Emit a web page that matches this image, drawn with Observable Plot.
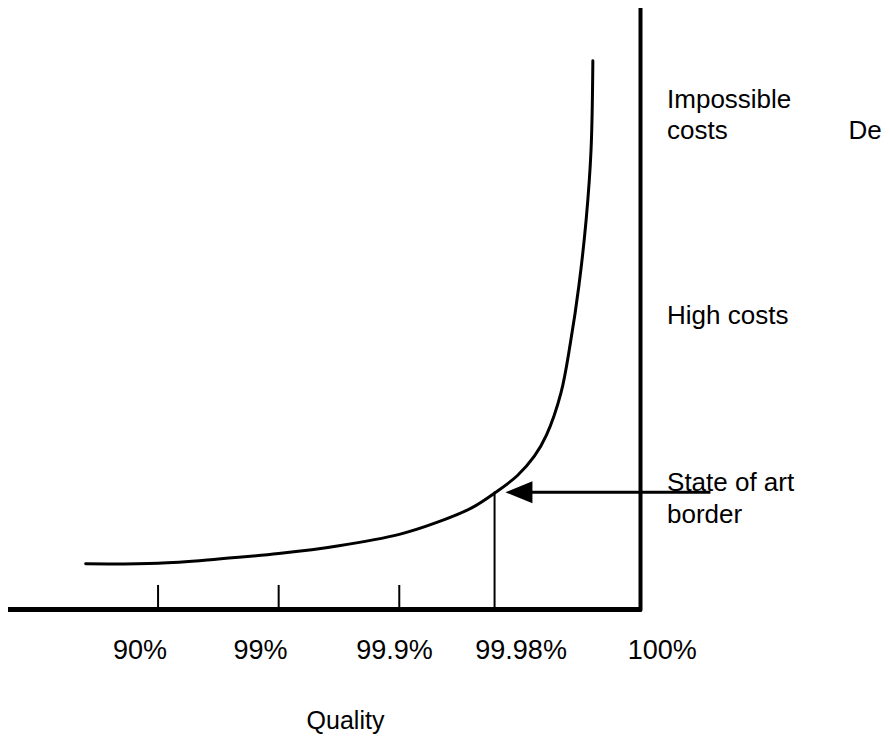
<!DOCTYPE html>
<html>
<head>
<meta charset="utf-8">
<script src="https://cdn.jsdelivr.net/npm/d3@7"></script>
<script src="https://cdn.jsdelivr.net/npm/@observablehq/plot@0.6"></script>
<style>
  html, body { margin: 0; padding: 0; background: #fff; }
  #chart { width: 890px; height: 736px; }
</style>
</head>
<body>
<div id="chart"></div>
<script>
// Quality axis: positions in "quality step" units (90% = 1, 99% = 2, 99.9% = 3, ...)
const qualityLabels = ["90%", "99%", "99.9%", "99.98%", "100%"];
const tickPos = [1, 2, 3];            // small tick marks
const stateOfArtPos = 3.79;           // 99.98% line
const limitPos = 5;                   // 100% wall
const labelPos = [0.85, 1.85, 2.96, 4.01, 5.18];

// Cost curve (arbitrary cost units 0..100)
const curveQ    = [0.40, 1.00, 1.50, 2.00, 2.50, 3.00, 3.30, 3.60, 3.80, 3.98, 4.12, 4.22, 4.34, 4.42, 4.49, 4.55, 4.59, 4.605];
const curveCost = [7.6,  7.7,  8.4,  9.3,  10.6, 12.5, 14.4, 16.9, 19.5, 22.3, 25.5, 29.0, 36.0, 44.5, 54.0, 65.0, 76.5, 91.3];
const stateOfArtCost = 19.5;

// Arrow
const arrowTip = 3.88, arrowTail = 5.58;

// Right-hand annotations
const noteText = ["Impossible", "costs", "De", "High costs", "State of art", "border"];
const noteQ    = [5.22, 5.22, 6.725, 5.22, 5.22, 5.22];
const noteCost = [84.9, 79.75, 79.75, 48.97, 21.18, 15.86];

const curve = curveQ.map((q, i) => ({q, cost: curveCost[i]}));
const ticks = qualityLabels.map((label, i) => ({label, pos: labelPos[i]}));
const notes = noteText.map((t, i) => ({t, q: noteQ[i], cost: noteCost[i]}));

// elongated filled arrowhead pointing left, origin at the tip
const arrowHead = {
  draw(ctx, size) {
    const s = Math.sqrt(size) / 10;
    ctx.moveTo(0, 0);
    ctx.lineTo(27 * s, -11 * s);
    ctx.lineTo(27 * s, 11 * s);
    ctx.closePath();
  }
};

const font = "'Liberation Sans', Arial, Helvetica, sans-serif";

const chart = Plot.plot({
  width: 890,
  height: 736,
  marginLeft: 8,
  marginRight: 250,
  marginTop: 8,
  marginBottom: 127,
  style: {fontFamily: font, background: "#fff", color: "#000", overflow: "visible"},
  x: {domain: [-0.24, limitPos], axis: null},
  y: {domain: [0, 100], axis: null},
  marks: [
    // baseline (quality axis)
    Plot.ruleY([0], {x1: -0.24, x2: limitPos + 0.015, stroke: "#000", strokeWidth: 5}),
    // 100% wall
    Plot.ruleX([limitPos], {y1: -0.3, y2: 100, stroke: "#000", strokeWidth: 4}),
    // small ticks
    Plot.ruleX(tickPos, {y1: 0, y2: 4, stroke: "#000", strokeWidth: 2}),
    // state of the art line
    Plot.ruleX([stateOfArtPos], {y1: 0, y2: stateOfArtCost, stroke: "#000", strokeWidth: 2}),
    // cost curve
    Plot.line(curve, {x: "q", y: "cost", curve: "catmull-rom", stroke: "#000", strokeWidth: 3}),
    // arrow
    Plot.link([0], {x1: arrowTail, x2: arrowTip + 0.1, y1: stateOfArtCost, y2: stateOfArtCost, stroke: "#000", strokeWidth: 3}),
    Plot.dot([0], {x: arrowTip, y: stateOfArtCost, symbol: arrowHead, r: 5.64, fill: "#000", stroke: "none"}),
    // quality labels
    Plot.text(ticks, {x: "pos", y: () => 0, text: "label", dy: 40.4, fontSize: 27, fill: "#000", textAnchor: "middle"}),
    // axis title
    Plot.text(["Quality"], {x: 2.554, y: () => 0, text: d => d, dy: 111, fontSize: 25, fill: "#000"}),
    // annotations
    Plot.text(notes, {x: "q", y: "cost", text: "t", textAnchor: "start", fontSize: 26, fill: "#000"})
  ]
});

document.getElementById("chart").appendChild(chart);
</script>
</body>
</html>
